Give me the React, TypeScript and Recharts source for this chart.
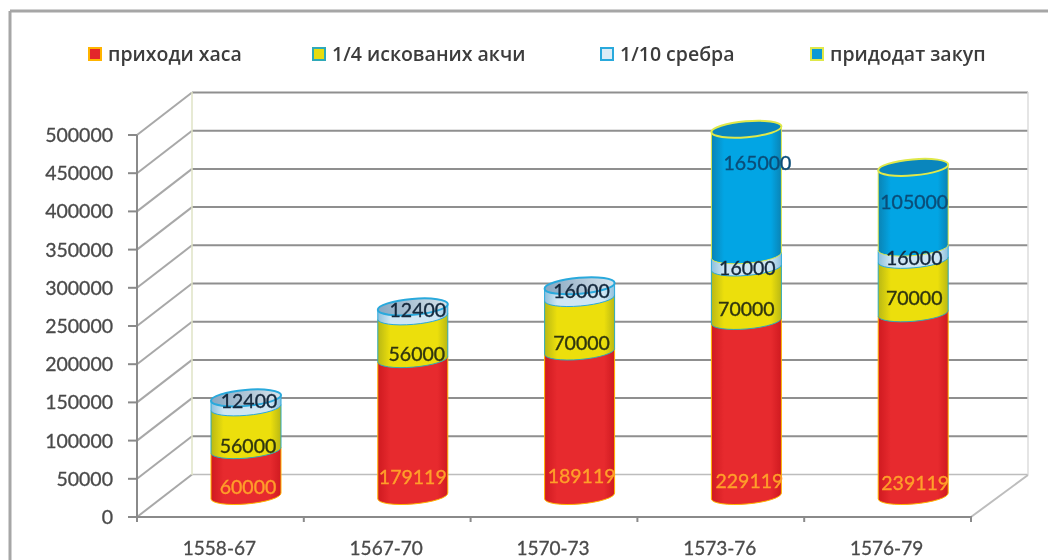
import { BarChart, Bar, XAxis, YAxis, CartesianGrid, Legend, LabelList } from 'recharts';

const categories = ['1558-67', '1567-70', '1570-73', '1573-76', '1576-79'];
const hasa = [60000, 179119, 189119, 229119, 239119];
const akche = [56000, 56000, 70000, 70000, 70000];
const srebro = [12400, 12400, 16000, 16000, 16000];
const zakup = [null, null, null, 165000, 105000];
const yTicks = [0, 50000, 100000, 150000, 200000, 250000, 300000, 350000, 400000, 450000, 500000];

const data = categories.map((period, i) => ({
  period,
  hasa: hasa[i],
  akche: akche[i],
  srebro: srebro[i],
  zakup: zakup[i],
}));

// hand placed data labels in the original, so each one gets a nudge from the segment middle
const labelNudge = {
  hasa: [[2, 13], [0, 49], [2, 52], [3, 72], [2, 78]],
  akche: [[2, 17], [4, 16], [2, 18], [0, 14], [1, 11]],
  srebro: [[3, -2], [5, -2], [2, -1], [1, 6], [1, 4]],
  zakup: [[0, 0], [0, 0], [0, 0], [11, -30], [1, -6]],
};

const looks = {
  hasa: { grad: 'gradHasa', cap: '#e3262b', edge: '#ffb400', swatch: '#e3262b', text: '#ff9f2a' },
  akche: { grad: 'gradAkche', cap: '#e8dc10', edge: '#2fa9b8', swatch: '#e8dc10', text: '#2f3510' },
  srebro: { grad: 'gradSrebro', cap: 'url(#gradSrebroCap)', edge: '#29a9dc', swatch: '#dcecf6', text: '#14283c' },
  zakup: { grad: 'gradZakup', cap: '#0a86bd', edge: '#dfe84a', swatch: '#0a9ad6', text: '#0b4d78' },
};

const chartFont = 'Lato, "Open Sans", sans-serif';
const plotLeft = 137;
const plotRight = 971;
const depthX = 55;
const depthY = -42.5;
const barShiftX = 26;
const barShiftY = -21;
const tilt = 3;
const capRy = 8;

function Cylinder({ x, y, width, height, look, top }: any) {
  if (!height || height <= 0) return null;
  const left = x + barShiftX;
  const right = left + width;
  const yTop = y + barShiftY;
  const yBottom = yTop + height;
  const rx = Math.hypot(width, tilt * 2) / 2;
  const angle = (Math.atan2(-tilt * 2, width) * 180) / Math.PI;
  const d = `M${left},${yTop + tilt} L${left},${yBottom + tilt} A${rx},${capRy} ${angle} 0 0 ${right},${yBottom - tilt} L${right},${yTop - tilt} Z`;
  return (
    <g>
      <path d={d} fill={`url(#${look.grad})`} stroke={look.edge} strokeWidth={1} />
      {top && (
        <ellipse
          cx={left + width / 2}
          cy={yTop}
          rx={rx}
          ry={capRy}
          transform={`rotate(${angle} ${left + width / 2} ${yTop})`}
          fill={look.cap}
          stroke={look.edge}
          strokeWidth={2}
        />
      )}
    </g>
  );
}

function segmentLabel(key: keyof typeof labelNudge) {
  return (props: any) => {
    const { x, y, width, height, value, index } = props;
    if (value == null || !height) return null;
    const [nx, ny] = labelNudge[key][index];
    return (
      <text
        x={x + width / 2 + barShiftX + nx}
        y={y + height / 2 + barShiftY + ny}
        textAnchor="middle"
        dominantBaseline="central"
        fontSize={19.5}
        fontFamily={chartFont}
        fill={looks[key].text}
        stroke={looks[key].text}
        strokeWidth={0.35}
      >
        {value}
      </text>
    );
  };
}

// back wall line plus the slanted piece on the side wall
function WallLine({ x1, x2, y1, index }: any) {
  const backY = y1 + depthY;
  const isFloor = y1 > 510;
  return (
    <g key={`wall-${index}-${y1}`}>
      <line x1={x1} y1={y1} x2={x1 + depthX} y2={backY} stroke="#a8a8a8" strokeWidth={2} />
      <line
        x1={x1 + depthX}
        y1={backY}
        x2={x2 + depthX + 2}
        y2={backY}
        stroke={isFloor ? '#bdbdbd' : '#8f8f8f'}
        strokeWidth={isFloor ? 1.5 : 2}
      />
    </g>
  );
}

function PeriodTick({ x, y, payload, index }: any) {
  const step = (plotRight - plotLeft) / categories.length;
  return (
    <g>
      <line x1={x - step / 2} y1={y - 9} x2={x - step / 2} y2={y - 3} stroke="#8a8a8a" strokeWidth={2} />
      {index === categories.length - 1 && (
        <line x1={x + step / 2} y1={y - 9} x2={x + step / 2} y2={y - 3} stroke="#8a8a8a" strokeWidth={2} />
      )}
      <text
        x={x - 1}
        y={y + 22}
        textAnchor="middle"
        dominantBaseline="central"
        fontSize={19}
        fontFamily={chartFont}
        fill="#4a4a4a"
        stroke="#4a4a4a"
        strokeWidth={0.3}
      >
        {payload.value}
      </text>
    </g>
  );
}

const legendStarts = [88, 312, 600, 810];

function LegendRow({ payload }: any) {
  return (
    <div style={{ position: 'relative', height: 30, width: 1056 }}>
      {(payload || []).map((item: any, i: number) => {
        const look = looks[item.dataKey as keyof typeof looks];
        return (
          <div key={item.value} style={{ position: 'absolute', left: legendStarts[i], top: 0, display: 'flex', alignItems: 'center', gap: 6 }}>
            <span style={{ width: 10, height: 10, background: look.swatch, border: `2px solid ${look.edge}`, display: 'block' }} />
            <span style={{ fontFamily: '"Open Sans", sans-serif', fontSize: 19.5, fontWeight: 600, color: '#3c3c3c', whiteSpace: 'nowrap' }}>{item.value}</span>
          </div>
        );
      })}
    </div>
  );
}

function sideGradient(id: string, side: string, mid: string) {
  return (
    <linearGradient id={id} x1="0" y1="0" x2="1" y2="0">
      <stop offset="0" stopColor={side} />
      <stop offset="0.18" stopColor={mid} />
      <stop offset="0.85" stopColor={mid} />
      <stop offset="1" stopColor={side} />
    </linearGradient>
  );
}

export default function App() {
  return (
    <div style={{ position: 'fixed', left: 0, top: 0, width: 1056, height: 560, background: '#fff', filter: 'blur(0.4px)' }}>
      <BarChart width={1056} height={560} data={data} margin={{ top: 135, right: 85, bottom: 0, left: 0 }}>
        <defs>
          {sideGradient('gradHasa', '#cf1a20', '#e72a2e')}
          {sideGradient('gradAkche', '#b9b814', '#ecdf0c')}
          {sideGradient('gradSrebro', '#8dbfdc', '#cfe6f4')}
          {sideGradient('gradZakup', '#0a83b4', '#02a5e4')}
          <linearGradient id="gradSrebroCap" x1="0" y1="0" x2="1" y2="0">
            <stop offset="0" stopColor="#86a6c0" />
            <stop offset="1" stopColor="#d8e4ec" />
          </linearGradient>
        </defs>
        <line x1={10} y1={11} x2={1048} y2={11} stroke="#a6a6a6" strokeWidth={3} />
        <line x1={10} y1={11} x2={10} y2={560} stroke="#a6a6a6" strokeWidth={3} />
        <line x1={plotLeft + depthX} y1={92} x2={plotLeft + depthX} y2={475} stroke="#dfe3c6" strokeWidth={1.5} />
        <line x1={plotRight + depthX + 2} y1={92} x2={plotRight + depthX + 2} y2={475} stroke="#dcdcdc" strokeWidth={1.5} />
        <line x1={plotRight} y1={517} x2={plotRight + depthX + 2} y2={475} stroke="#bdbdbd" strokeWidth={2} />
        <CartesianGrid vertical={false} horizontal={WallLine} />
        <XAxis
          dataKey="period"
          height={43}
          tick={PeriodTick}
          tickLine={false}
          axisLine={{ stroke: '#8a8a8a', strokeWidth: 2 }}
          interval={0}
        />
        <YAxis
          width={137}
          domain={[0, 500000]}
          ticks={yTicks}
          interval={0}
          tickSize={9}
          tickMargin={15}
          tick={{ fontSize: 19.5, fontFamily: chartFont, fill: '#4a4a4a', stroke: '#4a4a4a', strokeWidth: 0.3 }}
          tickLine={{ stroke: '#8a8a8a', strokeWidth: 2 }}
          axisLine={{ stroke: '#8a8a8a', strokeWidth: 2 }}
        />
        <Legend
          verticalAlign="middle"
          layout="horizontal"
          itemSorter={null}
          wrapperStyle={{ position: 'absolute', left: 0, top: 40, width: 1056, height: 30 }}
          content={LegendRow}
        />
        <Bar
          dataKey="hasa"
          name="приходи хаса"
          stackId="a"
          barSize={70}
          isAnimationActive={false}
          fill="#e3262b"
          shape={(p: any) => <Cylinder {...p} look={looks.hasa} />}
        >
          <LabelList dataKey="hasa" content={segmentLabel('hasa')} />
        </Bar>
        <Bar
          dataKey="akche"
          name="1/4 искованих акчи"
          stackId="a"
          barSize={70}
          isAnimationActive={false}
          fill="#e8dc10"
          shape={(p: any) => <Cylinder {...p} look={looks.akche} />}
        >
          <LabelList dataKey="akche" content={segmentLabel('akche')} />
        </Bar>
        <Bar
          dataKey="srebro"
          name="1/10 сребра"
          stackId="a"
          barSize={70}
          isAnimationActive={false}
          fill="#dcecf6"
          shape={(p: any) => <Cylinder {...p} look={looks.srebro} top={p.payload.zakup == null} />}
        >
          <LabelList dataKey="srebro" content={segmentLabel('srebro')} />
        </Bar>
        <Bar
          dataKey="zakup"
          name="придодат закуп"
          stackId="a"
          barSize={70}
          isAnimationActive={false}
          fill="#0a9ad6"
          shape={(p: any) => <Cylinder {...p} look={looks.zakup} top />}
        >
          <LabelList dataKey="zakup" content={segmentLabel('zakup')} />
        </Bar>
      </BarChart>
    </div>
  );
}
